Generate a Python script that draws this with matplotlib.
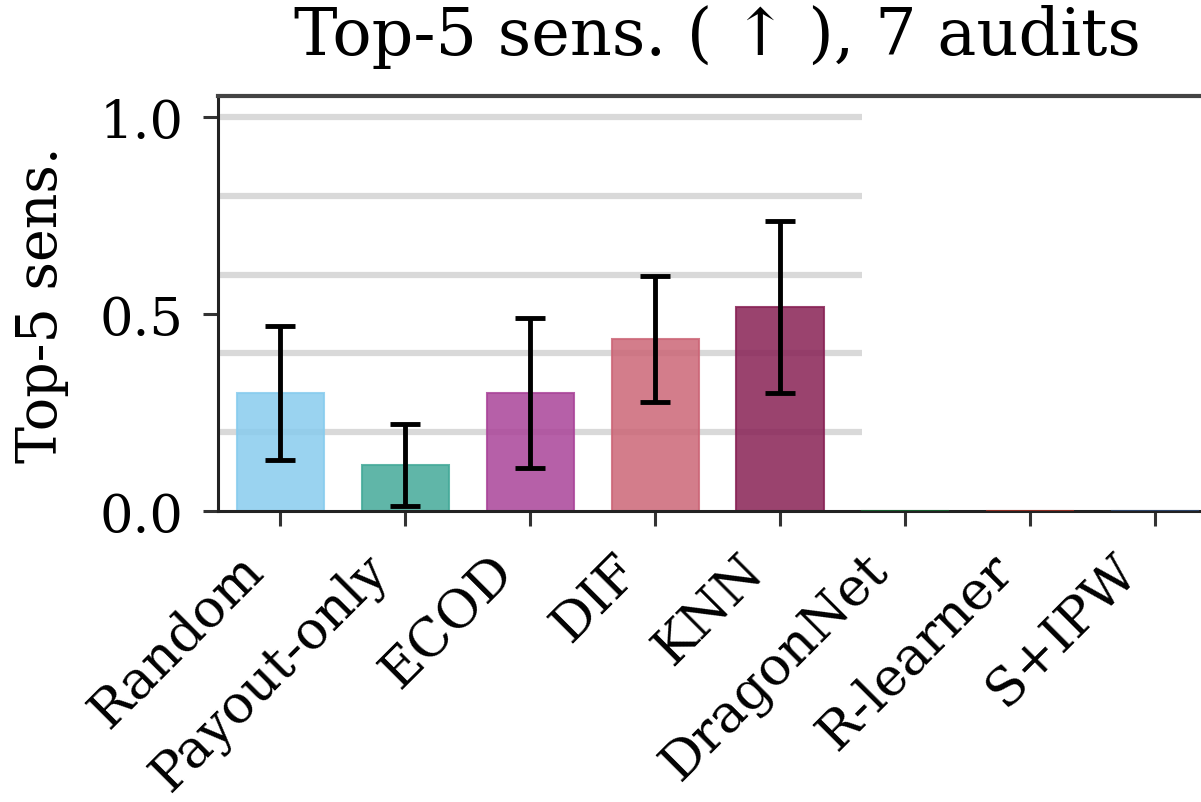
import matplotlib
matplotlib.use("Agg")
import matplotlib.pyplot as plt
import matplotlib.transforms as mtransforms
from matplotlib.patches import Rectangle
import numpy as np

# data
metodos = ["Random", "Payout-only", "ECOD", "DIF", "KNN", "DragonNet", "R-learner", "S+IPW"]
media = [0.30, 0.117, 0.30, 0.437, 0.518, 0.0, 0.0, 0.0]
error = [0.17, 0.105, 0.19, 0.16, 0.218, 0.0, 0.0, 0.0]
colores = ["#88CCEE", "#44AA99", "#AA4499", "#CC6677", "#882255", "#117733", "#BB3322", "#335588"]
lineas_grid = [0.2, 0.4, 0.6, 0.8, 1.0]

plt.rcParams["font.family"] = ["DejaVu Serif", "DejaVu Sans"]

fig = plt.figure(figsize=(12.01, 8.03), dpi=100)
ax = fig.add_axes([0.1815, 0.3624, 0.8322, 0.5168])

x = np.arange(len(metodos))
n_err = 5
ax.bar(x[:n_err], media[:n_err], width=0.7, color=colores[:n_err], alpha=0.85,
       edgecolor=colores[:n_err], linewidth=1.5, zorder=2)
# the empty methods only leave a coloured trace on the baseline
ax.bar(x[n_err:], media[n_err:], width=0.7, color=colores[n_err:], alpha=0.7,
       edgecolor=colores[n_err:], linewidth=1.5, zorder=2.6)
ax.errorbar(x[:n_err], media[:n_err], yerr=error[:n_err], fmt="none", ecolor="black",
            elinewidth=3.5, capsize=11, capthick=3.5, zorder=3)

for g in lineas_grid:
    ax.axhline(g, color="#d9d9d9", linewidth=4.5, zorder=0.5)

# blank panel covering the right part of the plot
ax.add_patch(Rectangle((4.655, 0.003), 4.0, 1.017, facecolor="white", edgecolor="none", zorder=2.4))

ax.set_xlim(-0.5, 7.5)
ax.set_ylim(0, 1.053)
ax.set_yticks([0.0, 0.5, 1.0])

# rotated category labels, placed by hand below each tick
ax.set_xticks(x)
ax.set_xticklabels([])
desplaza = mtransforms.ScaledTranslation(-18 / 72, -37 / 72, fig.dpi_scale_trans)
for xi, nombre in zip(x, metodos):
    ax.text(xi, 0, nombre, transform=ax.get_xaxis_transform() + desplaza, rotation=45,
            ha="right", va="center", rotation_mode="anchor", fontsize=38, clip_on=False)

ax.tick_params(axis="y", labelsize=38, pad=14)
ax.tick_params(length=11, width=2.2, color="#333333")

for s in ax.spines.values():
    s.set_linewidth(2.2)
    s.set_color("#222222")
ax.spines["top"].set_linewidth(3)
ax.spines["top"].set_color("#444444")

ax.set_ylabel("Top-5 sens.", fontsize=40, labelpad=22)
ax.set_title("Top-5 sens. ( ↑ ), 7 audits", fontsize=47, pad=30)

fig.savefig("out.png", dpi=100)
